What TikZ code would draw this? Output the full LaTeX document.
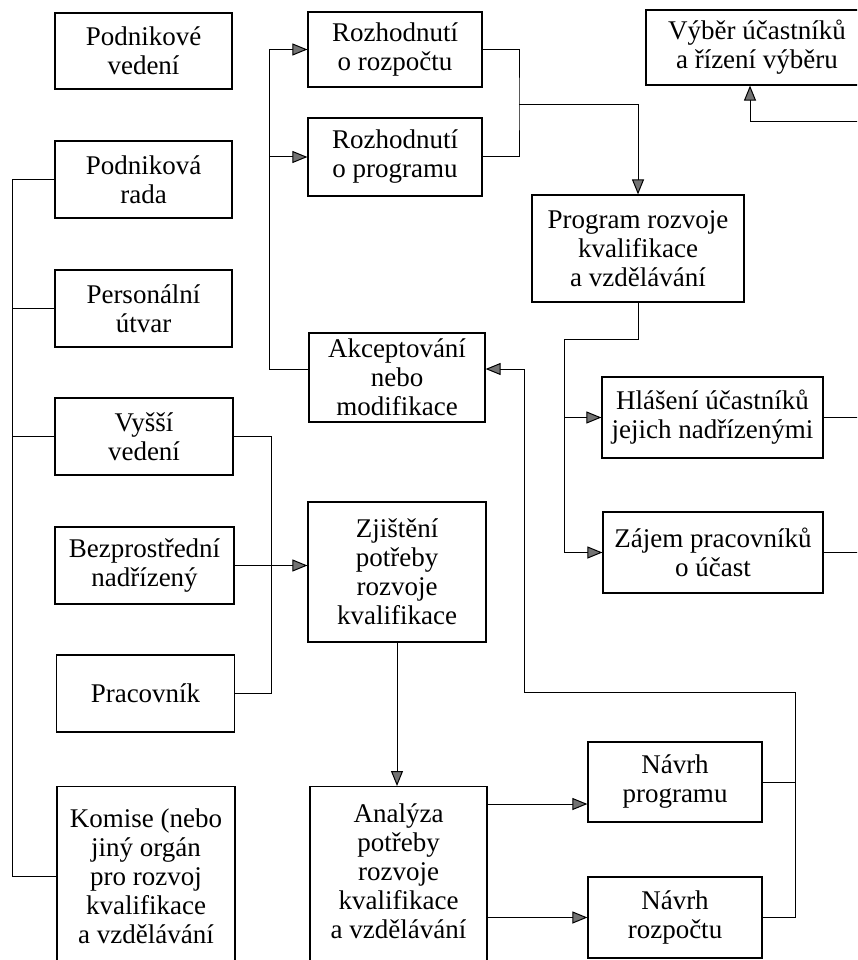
\documentclass[tikz,border=0pt]{standalone}
\usepackage{fontspec}
\setmainfont{Liberation Serif}
\usetikzlibrary{arrows.meta}
\begin{document}
\begin{tikzpicture}[x=1pt,y=-1pt,
  box/.style={draw,line width=1.2pt,inner sep=0pt,align=center,font=\fontsize{27}{29}\selectfont},
  conn/.style={line width=1pt},
  arr/.style={conn,-{Triangle[length=15pt,width=12pt,fill=black!55]}}]
\useasboundingbox (0,0) rectangle (857,960);
\clip (0,0) rectangle (857,960);
% left column
\node[box,minimum width=177pt,minimum height=76pt] (pv) at (143.5,51) {Podnikové\\vedení};
\node[box,minimum width=177pt,minimum height=77pt] (pr) at (143.5,179.5) {Podniková\\rada};
\node[box,minimum width=177pt,minimum height=77pt] (pu) at (143.5,308.5) {Personální\\útvar};
\node[box,minimum width=178pt,minimum height=77pt] (vv) at (144,436.5) {Vyšší\\vedení};
\node[box,minimum width=179pt,minimum height=77pt] (bn) at (144.5,565.5) {Bezprostřední\\nadřízený};
\node[box,minimum width=178pt,minimum height=77pt] (pc) at (145.5,693.5) {Pracovník};
\node[box,minimum width=178pt,text height=157pt,text depth=22pt,anchor=north] (ko) at (146,786) {Komise (nebo\\jiný orgán\\pro rozvoj\\kvalifikace\\a vzdělávání};
% middle column
\node[box,minimum width=174pt,minimum height=75pt] (rr) at (395,49.5) {Rozhodnutí\\o rozpočtu};
\node[box,minimum width=174pt,minimum height=78pt] (rp) at (395,157) {Rozhodnutí\\o programu};
\node[box,minimum width=176pt,minimum height=89pt] (ak) at (397,377.5) {Akceptování\\nebo\\modifikace};
\node[box,minimum width=178pt,minimum height=140pt] (zj) at (397,572) {Zjištění\\potřeby\\rozvoje\\kvalifikace};
\node[box,minimum width=177pt,text height=152pt,text depth=27pt,anchor=north] (an) at (398.5,786) {Analýza\\potřeby\\rozvoje\\kvalifikace\\a vzdělávání};
% right column
\node[box,minimum width=222pt,minimum height=75pt] (vy) at (757,47.5) {Výběr účastníků\\a řízení výběru};
\node[box,minimum width=212pt,minimum height=107pt] (pg) at (638,248.5) {Program rozvoje\\kvalifikace\\a vzdělávání};
\node[box,minimum width=221pt,minimum height=81pt] (hl) at (712.5,417.5) {Hlášení účastníků\\jejich nadřízenými};
\node[box,minimum width=220pt,minimum height=81pt] (za) at (713,552.5) {Zájem pracovníků\\o účast};
\node[box,minimum width=174pt,minimum height=80pt] (np) at (675,782) {Návrh\\programu};
\node[box,minimum width=174pt,minimum height=81pt] (nr) at (675,917.5) {Návrh\\rozpočtu};
% coordinates
\coordinate (lb) at (12,179.5);
\coordinate (rb) at (271,436.5);
\coordinate (cb) at (269,0);
\coordinate (jx) at (519,105);
\coordinate (px) at (564,339);
\coordinate (re) at (870,0);
\coordinate (vyin) at (870,122);
\coordinate (rx) at (795,692);
\coordinate (ux) at (524,692);
% left bus
\draw[conn] (pr.west) -- (lb) |- (ko.west);
\draw[conn] (pu.west) -- (pu.west -| lb);
\draw[conn] (vv.west) -- (vv.west -| lb);
% right bus of left column
\draw[conn] (vv.east) -- (rb) |- (pc.east);
\draw[arr] (bn.east) -- (zj.west |- bn.east);
% middle bus
\draw[conn] ([yshift=8.5pt]ak.west) -| (rr.west -| cb);
\draw[arr] (rr.west -| cb) -- (rr.west);
\draw[arr] (rp.west -| cb) -- (rp.west);
% decisions to program
\draw[conn] (rr.east) -| (jx) |- (rp.east);
\draw[arr] (jx) -| (pg.north);
% program to reports
\draw[conn] (pg.south) |- (px);
\draw[arr] (px) |- (za.west);
\draw[arr] (hl.west -| px) -- (hl.west);
\draw[conn] (hl.east) -- (hl.east -| re);
\draw[conn] (za.east) -- (za.east -| re);
\draw[arr] (vyin) -| ([xshift=-7pt]vy.south);
% needs analysis
\draw[arr] (zj.south) -- (zj.south |- an.north);
\draw[arr] ([yshift=-22pt]np.west -| an.east) -- ([yshift=-22pt]np.west);
\draw[arr] (nr.west -| an.east) -- (nr.west);
% feedback
\draw[conn] (np.east) -- (np.east -| rx);
\draw[arr] (nr.east) -| (rx) -- (ux) |- ([yshift=8.5pt]ak.east);
\end{tikzpicture}
\end{document}
